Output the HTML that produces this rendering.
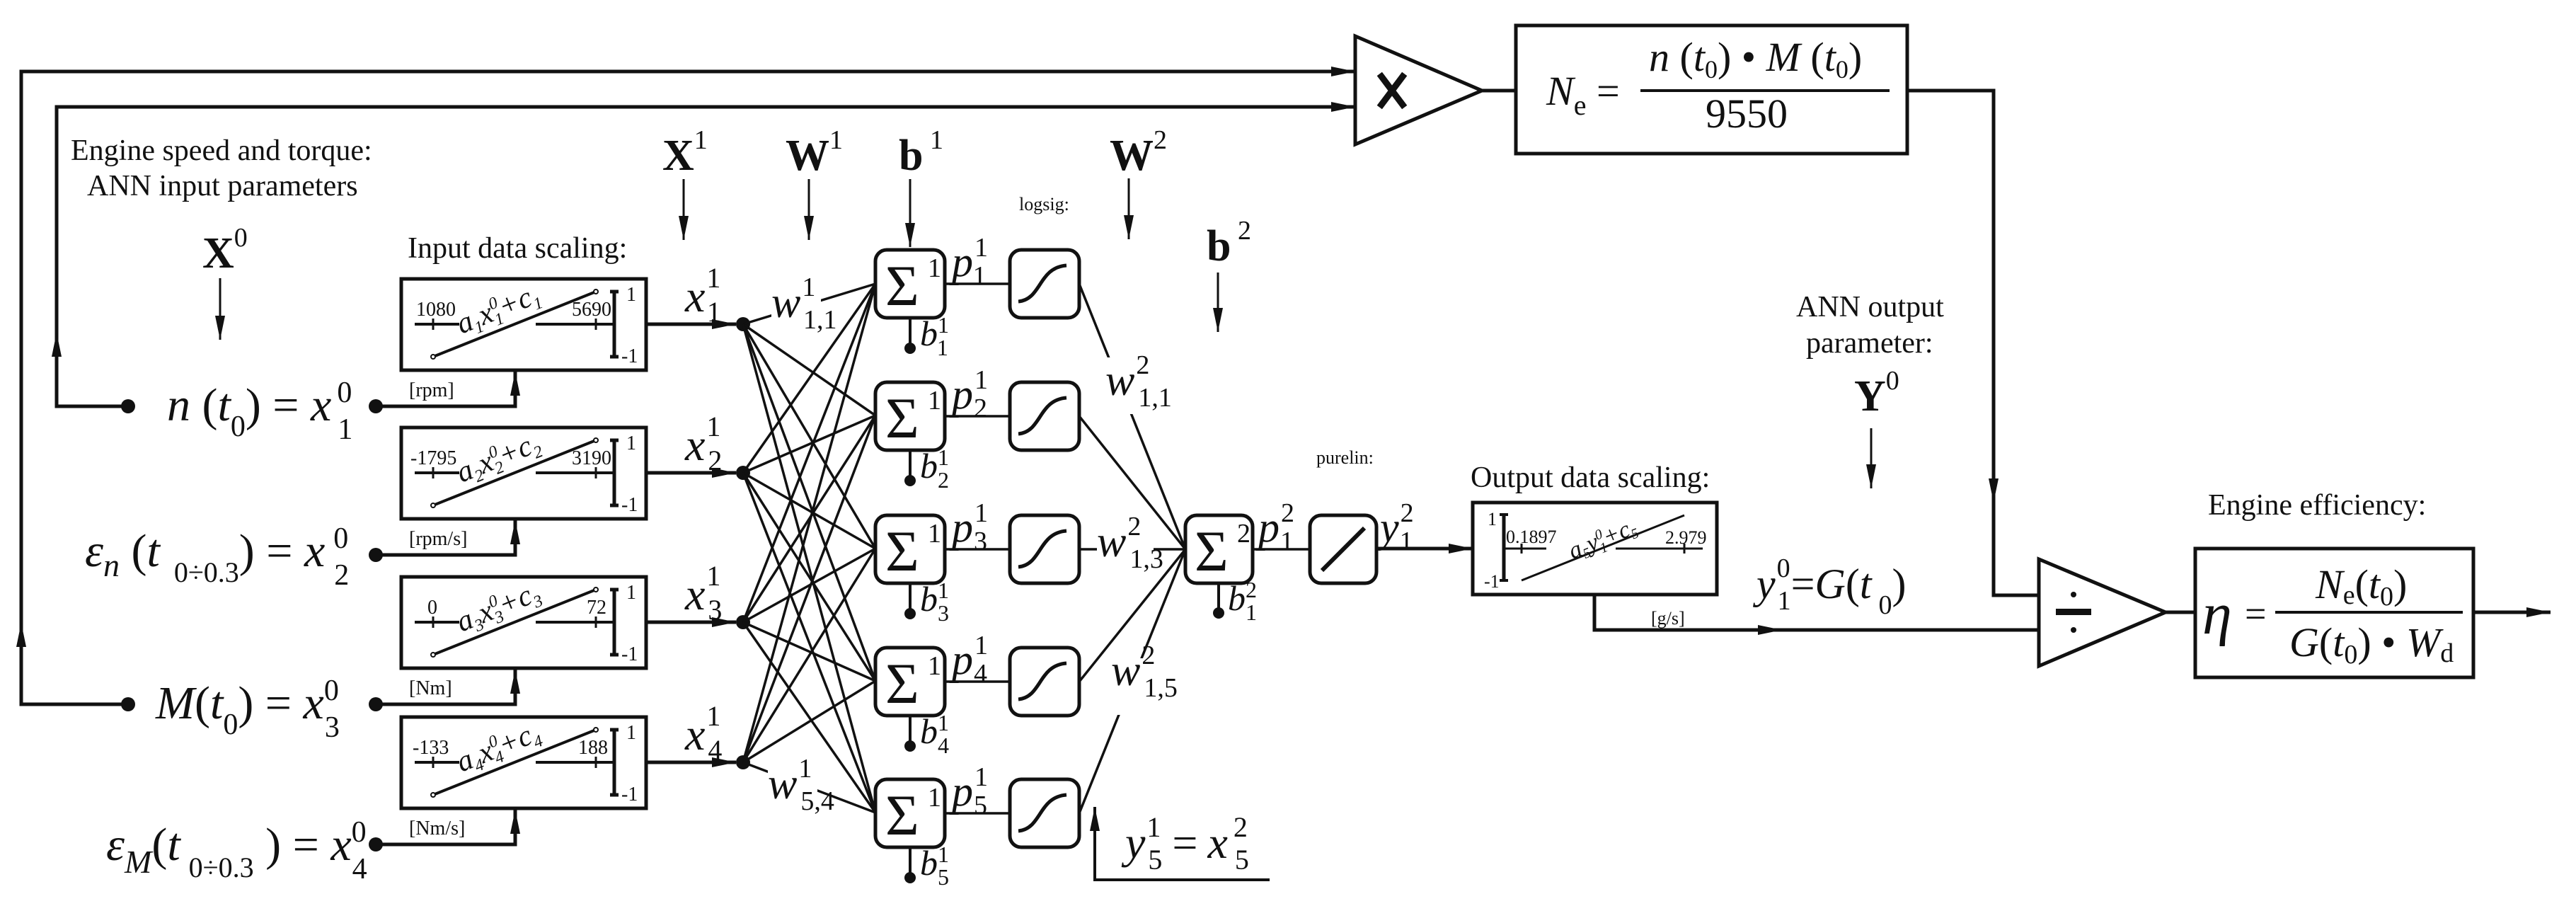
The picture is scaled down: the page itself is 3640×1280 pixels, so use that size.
<!DOCTYPE html>
<html><head><meta charset="utf-8"><style>
html,body{margin:0;padding:0;background:#fff;}
svg{display:block;}
text,tspan{font-family:"Liberation Serif",serif;fill:#111;}
.i{font-style:italic;}
.b{font-weight:bold;}
</style></head><body>
<svg width="3640" height="1280" viewBox="0 0 3640 1280" xmlns="http://www.w3.org/2000/svg" font-family="Liberation Serif, serif">
<defs>
<marker id="al" markerWidth="34" markerHeight="14" refX="34" refY="7" orient="auto" markerUnits="userSpaceOnUse"><path d="M0,0 L34,7 L0,14 z" fill="#111"/></marker>
<g id="sum"><rect x="0" y="0" width="98" height="96" rx="16" fill="#fff" stroke="#111" stroke-width="5"/><text x="14" y="78" font-size="82">Σ</text><text x="74" y="38" font-size="38">1</text><line x1="49" y1="96" x2="49" y2="138" stroke="#111" stroke-width="4"/><circle cx="49" cy="139" r="8" fill="#111"/></g>
<g id="sig"><rect x="0" y="0" width="98" height="96" rx="16" fill="#fff" stroke="#111" stroke-width="5"/><path d="M12,73 C45,70 40,25 80,22" fill="none" stroke="#111" stroke-width="5"/></g>
</defs>
<g stroke="#111" stroke-width="5" fill="none">
<polyline points="181,995 30,995 30,101 1915,101" marker-end="url(#al)"/>
<line x1="30" y1="920" x2="30" y2="880" marker-end="url(#al)"/>
<polyline points="181,574 80,574 80,151 1915,151" marker-end="url(#al)"/>
<line x1="80" y1="510" x2="80" y2="470" marker-end="url(#al)"/>
<polygon points="1915,51 1915,204 2094,128" fill="#fff"/>
<line x1="2094" y1="128" x2="2142" y2="128"/>
<rect x="2142" y="36" width="553" height="181" fill="#fff"/>
<polyline points="2695,128 2817,128 2817,841 2881,841"/>
<line x1="2817" y1="650" x2="2817" y2="710" marker-end="url(#al)"/>
<polygon points="2881,790 2881,941 3060,865" fill="#fff"/>
<line x1="3060" y1="865" x2="3102" y2="865"/>
<rect x="3102" y="775" width="393" height="182" fill="#fff"/>
<line x1="3495" y1="865" x2="3604" y2="865" marker-end="url(#al)"/>
<rect x="2081" y="710" width="345" height="130" fill="#fff"/>
<polyline points="2253,840 2253,890 2881,890"/>
<line x1="2253" y1="890" x2="2518" y2="890" marker-end="url(#al)"/>
<line x1="1945" y1="775" x2="2081" y2="775" marker-end="url(#al)"/>
<line x1="311" y1="393" x2="311" y2="480" stroke-width="3" marker-end="url(#al)"/>
<line x1="966" y1="253" x2="966" y2="339" stroke-width="3" marker-end="url(#al)"/>
<line x1="1143" y1="253" x2="1143" y2="339" stroke-width="3" marker-end="url(#al)"/>
<line x1="1286" y1="253" x2="1286" y2="349" stroke-width="3" marker-end="url(#al)"/>
<line x1="1595" y1="252" x2="1595" y2="338" stroke-width="3" marker-end="url(#al)"/>
<line x1="1721" y1="385" x2="1721" y2="469" stroke-width="3" marker-end="url(#al)"/>
<line x1="2644" y1="605" x2="2644" y2="690" stroke-width="3" marker-end="url(#al)"/>
<polyline points="1794,1243 1547,1243 1547,1140" stroke-width="4"/>
<line x1="1547" y1="1200" x2="1547" y2="1140" stroke-width="4" marker-end="url(#al)"/>
</g>
<g id="box1">
<g stroke="#111" stroke-width="5" fill="none">
<rect x="567" y="394" width="346" height="129" fill="#fff"/>
<line x1="586" y1="458" x2="649" y2="458" stroke-width="4"/>
<line x1="757" y1="458" x2="866" y2="458" stroke-width="4"/>
<line x1="612" y1="450" x2="612" y2="466" stroke-width="3"/>
<line x1="842" y1="450" x2="842" y2="466" stroke-width="3"/>
<line x1="612" y1="504" x2="842" y2="412" stroke-width="4"/>
<line x1="868" y1="412" x2="868" y2="504"/>
<line x1="862" y1="412" x2="874" y2="412"/><line x1="862" y1="504" x2="874" y2="504"/>
<line x1="913" y1="458" x2="1040" y2="458" marker-end="url(#al)"/>
<polyline points="531,574 728,574 728,525"/>
<line x1="728" y1="560" x2="728" y2="525" marker-end="url(#al)"/>
</g>
<circle cx="612" cy="504" r="3" fill="#fff" stroke="#111" stroke-width="2"/>
<circle cx="842" cy="412" r="3" fill="#fff" stroke="#111" stroke-width="2"/>
<circle cx="531" cy="574" r="10" fill="#111"/>
<circle cx="1050" cy="458" r="10" fill="#111"/>
<text x="885" y="425" font-size="28">1</text><text x="878" y="512" font-size="28">-1</text>
</g>
<use href="#box1" y="210"/><use href="#box1" y="421"/><use href="#box1" y="619"/>
<g font-size="28">
<text x="588" y="446">1080</text><text x="808" y="446">5690</text>
<text x="580" y="656">-1795</text><text x="808" y="656">3190</text>
<text x="604" y="867">0</text><text x="829" y="867">72</text>
<text x="583" y="1065">-133</text><text x="817" y="1065">188</text>
<text x="578" y="560">[rpm]</text><text x="578" y="770">[rpm/s]</text><text x="578" y="981">[Nm]</text><text x="578" y="1179">[Nm/s]</text>
</g>
<g font-size="42" class="i">
<text transform="translate(652,472) rotate(-22)">a<tspan font-size="24" dy="8">1</tspan><tspan dy="-8">x</tspan><tspan font-size="24" dy="-16">0</tspan><tspan font-size="24" dx="-12" dy="24">1</tspan><tspan dy="-8">+c</tspan><tspan font-size="24" dy="8">1</tspan></text>
<text transform="translate(652,682) rotate(-22)">a<tspan font-size="24" dy="8">2</tspan><tspan dy="-8">x</tspan><tspan font-size="24" dy="-16">0</tspan><tspan font-size="24" dx="-12" dy="24">2</tspan><tspan dy="-8">+c</tspan><tspan font-size="24" dy="8">2</tspan></text>
<text transform="translate(652,893) rotate(-22)">a<tspan font-size="24" dy="8">3</tspan><tspan dy="-8">x</tspan><tspan font-size="24" dy="-16">0</tspan><tspan font-size="24" dx="-12" dy="24">3</tspan><tspan dy="-8">+c</tspan><tspan font-size="24" dy="8">3</tspan></text>
<text transform="translate(652,1091) rotate(-22)">a<tspan font-size="24" dy="8">4</tspan><tspan dy="-8">x</tspan><tspan font-size="24" dy="-16">0</tspan><tspan font-size="24" dx="-12" dy="24">4</tspan><tspan dy="-8">+c</tspan><tspan font-size="24" dy="8">4</tspan></text>
</g>
<circle cx="181" cy="574" r="10" fill="#111"/><circle cx="181" cy="995" r="10" fill="#111"/>
<g stroke="#111" stroke-width="3.5">
<line x1="1050" y1="458" x2="1237" y2="401"/><line x1="1050" y1="458" x2="1237" y2="587"/><line x1="1050" y1="458" x2="1237" y2="775"/><line x1="1050" y1="458" x2="1237" y2="962"/><line x1="1050" y1="458" x2="1237" y2="1148"/>
<line x1="1050" y1="668" x2="1237" y2="401"/><line x1="1050" y1="668" x2="1237" y2="587"/><line x1="1050" y1="668" x2="1237" y2="775"/><line x1="1050" y1="668" x2="1237" y2="962"/><line x1="1050" y1="668" x2="1237" y2="1148"/>
<line x1="1050" y1="879" x2="1237" y2="401"/><line x1="1050" y1="879" x2="1237" y2="587"/><line x1="1050" y1="879" x2="1237" y2="775"/><line x1="1050" y1="879" x2="1237" y2="962"/><line x1="1050" y1="879" x2="1237" y2="1148"/>
<line x1="1050" y1="1077" x2="1237" y2="401"/><line x1="1050" y1="1077" x2="1237" y2="587"/><line x1="1050" y1="1077" x2="1237" y2="775"/><line x1="1050" y1="1077" x2="1237" y2="962"/><line x1="1050" y1="1077" x2="1237" y2="1148"/>
<line x1="1336" y1="401" x2="1427" y2="401"/><line x1="1336" y1="588" x2="1427" y2="588"/><line x1="1336" y1="776" x2="1427" y2="776"/><line x1="1336" y1="963" x2="1427" y2="963"/><line x1="1336" y1="1149" x2="1427" y2="1149"/>
<line x1="1525" y1="401" x2="1675" y2="776"/><line x1="1525" y1="588" x2="1675" y2="776"/><line x1="1525" y1="776" x2="1675" y2="776"/><line x1="1525" y1="963" x2="1675" y2="776"/><line x1="1525" y1="1149" x2="1675" y2="776"/>
<line x1="1770" y1="776" x2="1851" y2="776"/>
</g>
<rect x="1090" y="395" width="70" height="60" fill="#fff"/>
<rect x="1085" y="1085" width="70" height="70" fill="#fff"/>
<rect x="1563" y="505" width="80" height="80" fill="#fff"/>
<rect x="1550" y="740" width="80" height="70" fill="#fff"/>
<rect x="1560" y="930" width="80" height="80" fill="#fff"/>
<use href="#sum" x="1237" y="353"/><use href="#sum" x="1237" y="540"/><use href="#sum" x="1237" y="728"/><use href="#sum" x="1237" y="915"/><use href="#sum" x="1237" y="1101"/>
<use href="#sig" x="1427" y="353"/><use href="#sig" x="1427" y="540"/><use href="#sig" x="1427" y="728"/><use href="#sig" x="1427" y="915"/><use href="#sig" x="1427" y="1101"/>
<rect x="1675" y="728" width="95" height="96" rx="16" fill="#fff" stroke="#111" stroke-width="5"/>
<text x="1688" y="806" font-size="82">Σ</text><text x="1748" y="766" font-size="38">2</text>
<line x1="1722" y1="824" x2="1722" y2="866" stroke="#111" stroke-width="4"/><circle cx="1722" cy="866" r="8" fill="#111"/>
<rect x="1851" y="728" width="94" height="96" rx="16" fill="#fff" stroke="#111" stroke-width="5"/>
<line x1="1868" y1="806" x2="1928" y2="746" stroke="#111" stroke-width="6"/>
<g class="i" font-size="60">
<text x="1345" y="390">p<tspan font-size="38" font-style="normal" dx="2" dy="-28">1</tspan><tspan font-size="38" font-style="normal" dx="-20" dy="40">1</tspan></text>
<text x="1345" y="577">p<tspan font-size="38" font-style="normal" dx="2" dy="-28">1</tspan><tspan font-size="38" font-style="normal" dx="-20" dy="40">2</tspan></text>
<text x="1345" y="765">p<tspan font-size="38" font-style="normal" dx="2" dy="-28">1</tspan><tspan font-size="38" font-style="normal" dx="-20" dy="40">3</tspan></text>
<text x="1345" y="952">p<tspan font-size="38" font-style="normal" dx="2" dy="-28">1</tspan><tspan font-size="38" font-style="normal" dx="-20" dy="40">4</tspan></text>
<text x="1345" y="1138">p<tspan font-size="38" font-style="normal" dx="2" dy="-28">1</tspan><tspan font-size="38" font-style="normal" dx="-20" dy="40">5</tspan></text>
<text x="1778" y="765">p<tspan font-size="38" font-style="normal" dx="2" dy="-28">2</tspan><tspan font-size="38" font-style="normal" dx="-20" dy="40">1</tspan></text>
<text x="1950" y="765">y<tspan font-size="38" font-style="normal" dx="2" dy="-28">2</tspan><tspan font-size="38" font-style="normal" dx="-20" dy="40">1</tspan></text>
</g>
<g class="i" font-size="50">
<text x="1300" y="488">b<tspan font-size="32" font-style="normal" dy="-18">1</tspan><tspan font-size="32" font-style="normal" dx="-16" dy="32">1</tspan></text>
<text x="1300" y="675">b<tspan font-size="32" font-style="normal" dy="-18">1</tspan><tspan font-size="32" font-style="normal" dx="-16" dy="32">2</tspan></text>
<text x="1300" y="863">b<tspan font-size="32" font-style="normal" dy="-18">1</tspan><tspan font-size="32" font-style="normal" dx="-16" dy="32">3</tspan></text>
<text x="1300" y="1050">b<tspan font-size="32" font-style="normal" dy="-18">1</tspan><tspan font-size="32" font-style="normal" dx="-16" dy="32">4</tspan></text>
<text x="1300" y="1236">b<tspan font-size="32" font-style="normal" dy="-18">1</tspan><tspan font-size="32" font-style="normal" dx="-16" dy="32">5</tspan></text>
<text x="1735" y="862">b<tspan font-size="32" font-style="normal" dy="-18">2</tspan><tspan font-size="32" font-style="normal" dx="-16" dy="32">1</tspan></text>
</g>
<g class="i" font-size="62">
<text x="1090" y="448">w<tspan font-size="38" font-style="normal" dx="2" dy="-30">1</tspan><tspan font-size="38" font-style="normal" dx="-16" dy="46">1,1</tspan></text>
<text x="1085" y="1128">w<tspan font-size="38" font-style="normal" dx="2" dy="-30">1</tspan><tspan font-size="38" font-style="normal" dx="-16" dy="46">5,4</tspan></text>
<text x="1562" y="558">w<tspan font-size="38" font-style="normal" dx="2" dy="-30">2</tspan><tspan font-size="38" font-style="normal" dx="-16" dy="46">1,1</tspan></text>
<text x="1550" y="786">w<tspan font-size="38" font-style="normal" dx="2" dy="-30">2</tspan><tspan font-size="38" font-style="normal" dx="-16" dy="46">1,3</tspan></text>
<text x="1570" y="968">w<tspan font-size="38" font-style="normal" dx="2" dy="-30">2</tspan><tspan font-size="38" font-style="normal" dx="-16" dy="46">1,5</tspan></text>
</g>
<g class="i" font-size="64">
<text x="968" y="440">x<tspan font-size="40" font-style="normal" dx="2" dy="-34">1</tspan><tspan font-size="40" font-style="normal" dx="-18" dy="48">1</tspan></text>
<text x="968" y="650">x<tspan font-size="40" font-style="normal" dx="2" dy="-34">1</tspan><tspan font-size="40" font-style="normal" dx="-18" dy="48">2</tspan></text>
<text x="968" y="861">x<tspan font-size="40" font-style="normal" dx="2" dy="-34">1</tspan><tspan font-size="40" font-style="normal" dx="-18" dy="48">3</tspan></text>
<text x="968" y="1059">x<tspan font-size="40" font-style="normal" dx="2" dy="-34">1</tspan><tspan font-size="40" font-style="normal" dx="-18" dy="48">4</tspan></text>
<text x="1590" y="1212">y<tspan font-size="40" font-style="normal" dx="2" dy="-30">1</tspan><tspan font-size="40" font-style="normal" dx="-18" dy="46">5</tspan><tspan dx="14" dy="-16" font-style="normal">=</tspan><tspan dx="14">x</tspan><tspan font-size="40" font-style="normal" dx="8" dy="-30">2</tspan><tspan font-size="40" font-style="normal" dx="-18" dy="46">5</tspan></text>
</g>
<g class="i" font-size="66">
<text x="236" y="594">n <tspan font-style="normal">(</tspan>t<tspan font-size="42" font-style="normal" dy="22">0</tspan><tspan font-style="normal" dy="-22">) = </tspan>x<tspan font-size="42" font-style="normal" dx="8" dy="-26">0</tspan><tspan font-size="42" font-style="normal" dx="-20" dy="52">1</tspan></text>
<text x="120" y="800">ε<tspan font-size="46" dy="14">n</tspan><tspan dy="-14" font-style="normal"> (</tspan>t<tspan font-size="40" dx="20" dy="22" font-style="normal">0÷0.3</tspan><tspan font-style="normal" dy="-22">) = </tspan>x<tspan font-size="42" font-style="normal" dx="12" dy="-26">0</tspan><tspan font-size="42" font-style="normal" dx="-20" dy="52">2</tspan></text>
<text x="220" y="1015">M<tspan font-style="normal">(</tspan>t<tspan font-size="42" font-style="normal" dy="22">0</tspan><tspan font-style="normal" dy="-22">) = </tspan>x<tspan font-size="42" font-style="normal" dy="-26">0</tspan><tspan font-size="42" font-style="normal" dx="-20" dy="52">3</tspan></text>
<text x="150" y="1215">ε<tspan font-size="46" dy="18">M</tspan><tspan dy="-18" font-style="normal">(</tspan>t<tspan font-size="40" dx="12" dy="24" font-style="normal">0÷0.3</tspan><tspan font-style="normal" dy="-24"> ) = </tspan>x<tspan font-size="42" font-style="normal" dy="-26">0</tspan><tspan font-size="42" font-style="normal" dx="-20" dy="52">4</tspan></text>
</g>
<g font-size="42">
<text x="100" y="226">Engine speed and torque:</text>
<text x="123" y="276">ANN input parameters</text>
<text x="576" y="364">Input data scaling:</text>
<text x="2078" y="688">Output data scaling:</text>
<text x="2538" y="447">ANN output</text>
<text x="2552" y="498">parameter:</text>
<text x="3120" y="727">Engine efficiency:</text>
</g>
<text x="1440" y="297" font-size="26">logsig:</text>
<text x="1860" y="655" font-size="26">purelin:</text>
<g class="b" font-size="62">
<text x="286" y="378">X<tspan font-size="38" font-weight="normal" dy="-30">0</tspan></text>
<text x="936" y="240">X<tspan font-size="38" font-weight="normal" dy="-30">1</tspan></text>
<text x="1110" y="240">W<tspan font-size="38" font-weight="normal" dy="-30">1</tspan></text>
<text x="1270" y="240">b<tspan font-size="38" font-weight="normal" dy="-30"> 1</tspan></text>
<text x="1568" y="240">W<tspan font-size="38" font-weight="normal" dy="-30">2</tspan></text>
<text x="1705" y="368">b<tspan font-size="38" font-weight="normal" dy="-30"> 2</tspan></text>
<text x="2620" y="580">Y<tspan font-size="38" font-weight="normal" dy="-30">0</tspan></text>
</g>
<g stroke="#111" stroke-width="9" stroke-linecap="square"><line x1="1952" y1="108" x2="1982" y2="148"/><line x1="1982" y1="108" x2="1952" y2="148"/></g>
<rect x="2905" y="860" width="50" height="9" fill="#111"/><circle cx="2930" cy="840" r="4" fill="#111"/><circle cx="2930" cy="890" r="4" fill="#111"/>
<text x="2185" y="148" font-size="58" class="i">N<tspan font-size="40" font-style="normal" dy="14">e</tspan><tspan font-style="normal" dy="-14"> =</tspan></text>
<line x1="2318" y1="128" x2="2670" y2="128" stroke="#111" stroke-width="4"/>
<text x="2330" y="100" font-size="58" class="i">n <tspan font-style="normal">(</tspan>t<tspan font-size="36" font-style="normal" dy="10">0</tspan><tspan font-style="normal" dy="-10">) • </tspan>M <tspan font-style="normal">(</tspan>t<tspan font-size="36" font-style="normal" dy="10">0</tspan><tspan font-style="normal" dy="-10">)</tspan></text>
<text x="2410" y="180" font-size="58">9550</text>
<g stroke="#111" fill="none">
<line x1="2125" y1="727" x2="2125" y2="820" stroke-width="5"/>
<line x1="2119" y1="727" x2="2131" y2="727" stroke-width="4"/><line x1="2119" y1="820" x2="2131" y2="820" stroke-width="4"/>
<line x1="2125" y1="775" x2="2185" y2="775" stroke-width="3"/>
<line x1="2283" y1="775" x2="2406" y2="775" stroke-width="3"/>
<line x1="2150" y1="768" x2="2150" y2="782" stroke-width="3"/><line x1="2380" y1="768" x2="2380" y2="782" stroke-width="3"/>
<line x1="2150" y1="820" x2="2380" y2="728" stroke-width="3"/>
</g>
<g font-size="26"><text x="2102" y="742">1</text><text x="2097" y="830">-1</text><text x="2128" y="767">0.1897</text><text x="2353" y="768">2.979</text><text x="2333" y="882">[g/s]</text></g>
<text transform="translate(2222,790) rotate(-22)" font-size="34" class="i">a<tspan font-size="20" dy="6">5</tspan><tspan dy="-6">y</tspan><tspan font-size="20" dy="-12">0</tspan><tspan font-size="20" dx="-10" dy="20">1</tspan><tspan dy="-8">+c</tspan><tspan font-size="20" dy="6">5</tspan></text>
<text x="2482" y="845" font-size="60" class="i">y<tspan font-size="38" font-style="normal" dx="2" dy="-30">0</tspan><tspan font-size="38" font-style="normal" dx="-18" dy="46">1</tspan><tspan dy="-16" font-style="normal">=</tspan>G<tspan font-style="normal">(</tspan>t<tspan font-size="38" font-style="normal" dx="10" dy="22">0</tspan><tspan font-style="normal" dy="-22">)</tspan></text>
<text x="3112" y="895" font-size="84" class="i">η</text><text x="3172" y="885" font-size="54">=</text>
<line x1="3215" y1="865" x2="3480" y2="865" stroke="#111" stroke-width="4"/>
<text x="3272" y="845" font-size="58" class="i">N<tspan font-size="38" font-style="normal" dy="8">e</tspan><tspan font-style="normal" dy="-8">(</tspan>t<tspan font-size="38" font-style="normal" dy="10">0</tspan><tspan font-style="normal" dy="-10">)</tspan></text>
<text x="3235" y="927" font-size="58" class="i">G<tspan font-style="normal">(</tspan>t<tspan font-size="38" font-style="normal" dy="10">0</tspan><tspan font-style="normal" dy="-10">) • </tspan>W<tspan font-size="38" font-style="normal" dy="8">d</tspan></text>
</svg>
</body></html>
